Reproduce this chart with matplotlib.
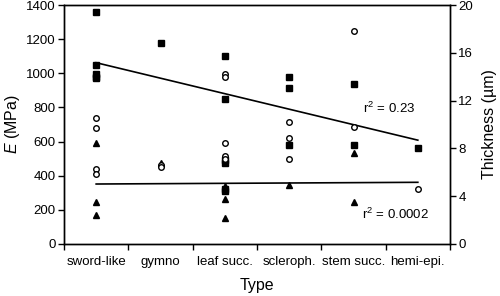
import numpy as np
import matplotlib
matplotlib.use('Agg')
import matplotlib.pyplot as plt
import matplotlib.ticker as mticker

plt.rcParams['font.family'] = ['Liberation Sans', 'DejaVu Sans']
plt.rcParams['mathtext.fontset'] = 'custom'
plt.rcParams['mathtext.rm'] = 'Liberation Sans'
plt.rcParams['mathtext.it'] = 'Liberation Sans:italic'

#categories along x
types = ['sword-like', 'gymno', 'leaf succ.', 'scleroph.', 'stem succ.', 'hemi-epi.']

#filled squares (category index, E in MPa)
sq_type = [0, 0, 0, 0, 0, 1, 2, 2, 2, 2, 2, 2, 3, 3, 3, 4, 4, 5]
sq_val = [1360, 1050, 995, 980, 970, 1175, 1100, 850, 490, 475, 320, 310,
          980, 915, 580, 940, 580, 565]

#open circles
ci_type = [0, 0, 0, 0, 1, 1, 2, 2, 2, 2, 2, 3, 3, 3, 4, 4, 5]
ci_val = [740, 680, 440, 410, 460, 450, 995, 980, 590, 515, 500,
          715, 620, 500, 1250, 685, 322]

#filled triangles
tr_type = [0, 0, 0, 1, 2, 2, 2, 3, 4, 4]
tr_val = [590, 245, 170, 475, 340, 262, 150, 345, 535, 248]

#regression lines (values at first and last category)
fit_x = [0, 5]
fit_upper = [1062, 608]
fit_lower = [351, 361]

fig = plt.figure(figsize=(5.0, 2.96), dpi=100)
ax = fig.add_axes([0.128, 0.176, 0.772, 0.807])

ax.plot(fit_x, fit_upper, color='k', lw=1.2, zorder=2)
ax.plot(fit_x, fit_lower, color='k', lw=1.2, zorder=2)

ax.plot(sq_type, sq_val, 's', color='k', ms=4.3, ls='none', zorder=3)
ax.plot(ci_type, ci_val, 'o', mfc='white', mec='k', mew=1.0, ms=4.0, ls='none', zorder=4)
ax.plot(tr_type, tr_val, '^', color='k', ms=4.5, ls='none', zorder=3)

ax.set_xlim(-0.5, 5.5)
ax.set_ylim(0, 1400)
ax.yaxis.set_major_locator(mticker.MultipleLocator(200))

#boundary ticks without labels, category labels at centres
ax.set_xticks(np.arange(-0.5, 6.0, 1.0))
ax.set_xticklabels([])
ax.set_xticks(np.arange(len(types)), minor=True)
ax.set_xticklabels(types, minor=True, fontsize=9.5)
ax.tick_params(axis='x', which='minor', length=0, pad=9)
ax.tick_params(axis='x', which='major', direction='out', length=4, width=1)
ax.tick_params(axis='y', direction='out', length=4, width=1, labelsize=9.5, pad=2)

ax.set_ylabel(r'$\it{E}$ (MPa)', fontsize=11.5, labelpad=3)
ax.set_xlabel('Type', fontsize=11.5, labelpad=7)

ax2 = ax.twinx()
ax2.set_ylim(0, 20)
ax2.yaxis.set_major_locator(mticker.MultipleLocator(4))
ax2.tick_params(axis='y', direction='out', length=4, width=1, labelsize=9.5, pad=2)
ax2.set_ylabel('Thickness (\u00b5m)', fontsize=11.5, labelpad=6)

for a in (ax, ax2):
  for s in a.spines.values():
    s.set_linewidth(1.0)

ax.text(4.14, 795, r'r$^2$ = 0.23', fontsize=9.5, va='center', ha='left')
ax.text(4.13, 175, r'r$^2$ = 0.0002', fontsize=9.5, va='center', ha='left')

plt.savefig('out.png', dpi=100)
plt.close()
